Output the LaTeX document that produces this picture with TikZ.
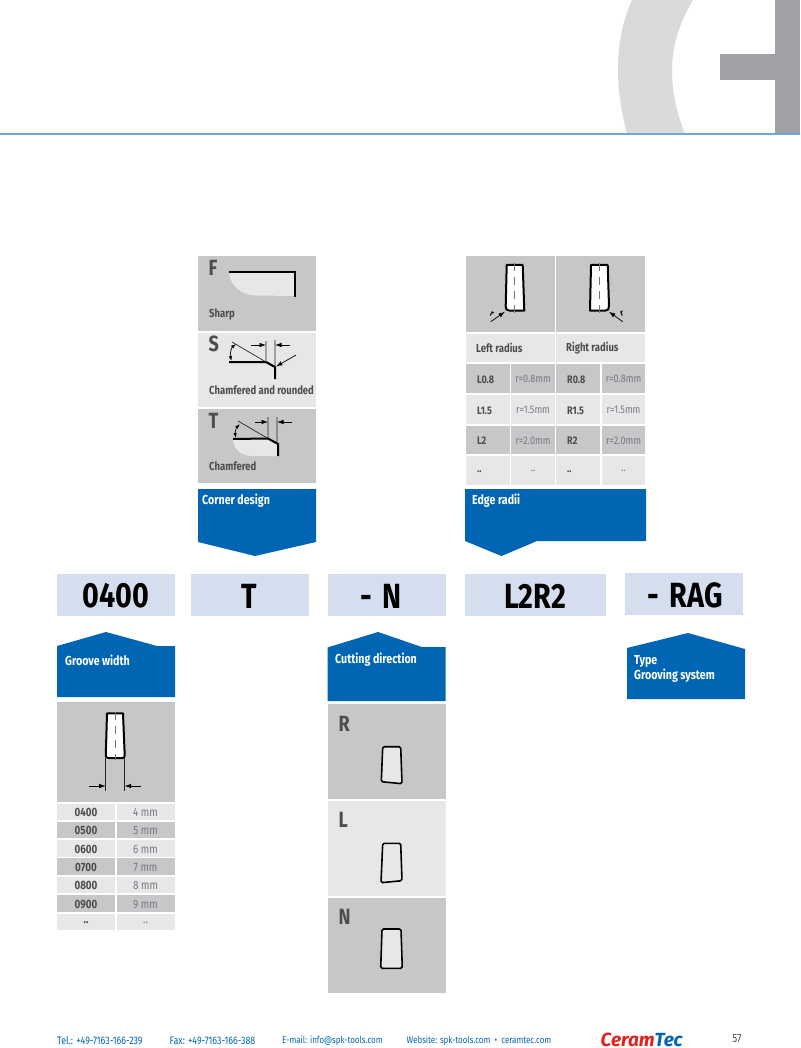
\documentclass[tikz,border=0pt]{standalone}
\usepackage{fontspec}
\setmainfont[FakeStretch=0.82]{Fira Sans}
\newfontfamily\logofont{Fira Sans}
\usetikzlibrary{arrows.meta}
\definecolor{bluebox}{HTML}{0066B3}
\definecolor{codebox}{HTML}{D5DEEF}
\definecolor{panelgray}{HTML}{C6C7C9}
\definecolor{panellight}{HTML}{E6E7E8}
\definecolor{txtgray}{HTML}{4D4D4F}
\definecolor{txtlight}{HTML}{77787B}
\definecolor{ringgray}{HTML}{D9DADB}
\definecolor{markgray}{HTML}{A0A1A5}
\definecolor{rulecol}{HTML}{6CA9D8}
\definecolor{logored}{HTML}{E2231A}
\tikzset{
 code/.style={font=\fontsize{35}{35}\selectfont\bfseries,text=black,inner sep=0},
 bluelabel/.style={font=\fontsize{13}{15}\selectfont\bfseries,text=white,inner sep=0,anchor=west,align=left},
 biglet/.style={font=\fontsize{22}{22}\selectfont\bfseries,text=txtgray,inner sep=0,anchor=west},
 panlabel/.style={font=\fontsize{11.6}{11.6}\selectfont\bfseries,text=txtgray,inner sep=0,anchor=west},
 keytext/.style={font=\fontsize{11}{11}\selectfont\bfseries,text=txtgray,inner sep=0},
 valtext/.style={font=\fontsize{11}{11}\selectfont,text=txtlight,inner sep=0},
 foot/.style={font=\fontsize{9.7}{10}\selectfont,text=bluebox,inner sep=0,anchor=west},
 footnum/.style={foot,font=\fontsize{10.9}{10}\selectfont},
 thick line/.style={line width=2pt,black},
 thin line/.style={line width=0.7pt,black!85},
 dim/.style={line width=0.7pt,black,-{Latex[length=6.5pt,width=4.5pt]}},
 dimboth/.style={line width=0.7pt,black,{Latex[length=5pt,width=3.5pt]}-{Latex[length=5pt,width=3.5pt]}},
 insert/.style={line width=1.6pt,black,fill=panellight,rounded corners=1.5pt,line join=round},
 insertw/.style={line width=2pt,black,fill=white,line join=round},
 centre/.style={line width=0.9pt,black!55,dash pattern=on 8pt off 6pt},
}
\begin{document}
\begin{tikzpicture}[x=1pt,y=-1pt]
\useasboundingbox (0,0) rectangle (800,1048);
\fill[white] (0,0) rectangle (800,1048);
% header
\fill[ringgray] (632,0) .. controls (622,22) and (618,45) .. (618,70) .. controls (618,93) and (622,114) .. (627,134) -- (685,134) .. controls (677,114) and (672,93) .. (672,70) .. controls (672,45) and (680,22) .. (693,0) -- cycle;
\fill[markgray] (775,0) rectangle (800,134);
\fill[markgray] (720,54) rectangle (775,80);
\fill[rulecol] (0,133.5) rectangle (800,135);

% corner design
\fill[panelgray] (198,256) rectangle (316,331);
\fill[panellight] (198,333) rectangle (316,407);
\fill[panelgray] (198,409) rectangle (316,483);
\node[biglet] (lF) at (208.5,268) {F};
\node[biglet] (lS) at (208.5,344) {S};
\node[biglet] (lT) at (208.5,421) {T};
\node[panlabel] (tSharp) at (209,314) {Sharp};
\node[panlabel] (tCR) at (209,390) {Chamfered and rounded};
\node[panlabel] (tCh) at (209,466) {Chamfered};
% F
\fill[panellight] (229,272) .. controls (230,285) and (240,295) .. (256,295.5) -- (295,296) -- (295,272) -- cycle;
\draw[thick line] (229,272) -- (295,272) -- (295,297);
% S
\draw[thick line] (229,362) -- (266,362) -- (275,367) -- (275,379);
\draw[thin line] (232,342) -- (266,362) (266,341) -- (266,362) (275,340) -- (275,367);
\draw[dim] (251,345) -- (266,345);
\draw[dim] (290,345) -- (275,345);
\draw[dim] (296,355) -- (276,366.5);
\draw[dimboth] (236,344) .. controls (231,348) and (230,355) .. (231.5,361);
% T
\fill[panellight] (233,439) .. controls (233,449) and (241,456) .. (252,456) -- (278,456) -- (278,444) -- (268,438) -- cycle;
\draw[thick line] (233,439) -- (268,438.5) -- (278,444) -- (278,456);
\draw[thin line] (238,421) -- (268,438.5) (268,417) -- (268,438) (277,417) -- (277,444);
\draw[dim] (255,422) -- (268,422);
\draw[dim] (292,422) -- (277,422);
\draw[dimboth] (240,424) .. controls (236,428) and (235,433) .. (236,438);
% corner blue
\fill[bluebox] (198,489) -- (316,489) -- (316,542) -- (255,556) -- (198,542) -- cycle;
\node[bluelabel] (corner) at (202,500.5) {Corner design};

% edge radii
\fill[panelgray] (466,256) rectangle (555,332);
\fill[panelgray] (556,256) rectangle (645,332);
\draw[insertw] (506.7,265) -- (522.7,265) -- (524.3,310.5) -- (509,310.5) .. controls (506.5,310.5) and (505.5,309) .. (505.7,306) -- cycle;
\draw[centre] (514.7,263) -- (514.7,313);
\draw[insertw] (591,265) -- (607.7,265) -- (609,306) .. controls (609,309) and (608,310.5) .. (605.5,310.5) -- (590,310.5) -- cycle;
\draw[centre] (599.3,263) -- (599.3,313);
\draw[dim] (490.7,321.7) -- (505,311.7);
\draw[dim] (622.7,321.7) -- (609,311.7);
\node[inner sep=0,font=\fontsize{9}{9}\selectfont\bfseries,rotate=-30] (rL) at (492,314) {r};
\node[inner sep=0,font=\fontsize{9}{9}\selectfont\bfseries,rotate=20] (rR) at (622,314) {r};
\fill[panellight] (466,334) rectangle (555,362);
\fill[panellight] (556,334) rectangle (645,362);
\node[panlabel] (tLr) at (476,348) {Left radius};
\node[panlabel] (tRr) at (566,348) {Right radius};
\foreach \ya/\yb/\col/\ka/\kb/\va in {364/393/panelgray/L0.8/R0.8/r=0.8mm,395/424/panellight/L1.5/R1.5/r=1.5mm,426/454/panelgray/L2/R2/r=2.0mm,456/485/panellight/../../..}{
  \fill[\col] (466,\ya) rectangle (509.5,\yb);
  \fill[\col] (511,\ya) rectangle (555,\yb);
  \fill[\col] (556,\ya) rectangle (600,\yb);
  \fill[\col] (601.5,\ya) rectangle (645,\yb);
  \pgfmathsetmacro\ym{(\ya+\yb)/2+0.8}
  \node[keytext,anchor=west] at (477,\ym) {\ka};
  \node[valtext] at (533,\ym) {\va};
  \node[keytext,anchor=west] at (567,\ym) {\kb};
  \node[valtext] at (623.5,\ym) {\va};
}
\fill[bluebox] (465,489) -- (646,489) -- (646,541) -- (537,541) -- (501.5,556) -- (465,541) -- cycle;
\node[bluelabel] (edge) at (472,500.5) {Edge radii};

% code boxes
\fill[codebox] (57,574) rectangle (175,616);
\fill[codebox] (190.5,574) rectangle (309,616);
\fill[codebox] (327.5,574) rectangle (446,616);
\fill[codebox] (465,574) rectangle (606,616);
\fill[codebox] (625,573) rectangle (743,615);
\node[code] (c1) at (116,596) {0400};
\node[code] (c2) at (249.5,596) {T};
\node[code] (c3) at (381,596) {-\hspace{0.12em} N};
\node[code] (c4) at (535,596) {L2R2};
\node[code] (c6) at (685,595) {-\hspace{0.12em} RAG};

% groove width
\fill[bluebox] (57,646) -- (106,632) -- (157,646) -- (175,646) -- (175,697) -- (57,697) -- cycle;
\node[bluelabel] (groove) at (65,660.5) {Groove width};
\fill[panelgray] (57,702) rectangle (175,802);
\draw[insertw] (107,713.3) -- (123,713.3) -- (124.7,755) .. controls (124.7,757.5) and (124,758) .. (122.5,758) -- (108.5,758) .. controls (106.5,758) and (105.7,757) .. (105.8,755) -- cycle;
\draw[centre] (115,712) -- (115,760);
\draw[thin line] (105.7,758) -- (105.7,791) (124.7,758) -- (124.7,791);
\draw[dim] (89.3,786) -- (105.7,786);
\draw[dim] (141,786) -- (124.7,786);
\foreach \ya/\yb/\col/\ka/\va in {804/820/panellight/0400/4 mm,822/838/panelgray/0500/5 mm,840/857/panellight/0600/6 mm,858/875/panelgray/0700/7 mm,877/893/panellight/0800/8 mm,895/912/panelgray/0900/9 mm,914/930/panellight/../..}{
  \fill[\col] (57,\ya) rectangle (115,\yb);
  \fill[\col] (117,\ya) rectangle (175,\yb);
  \pgfmathsetmacro\ym{(\ya+\yb)/2+0.8}
  \node[keytext,font=\fontsize{12}{12}\selectfont\bfseries] at (86,\ym) {\ka};
  \node[valtext,font=\fontsize{12}{12}\selectfont] at (145.5,\ym) {\va};
}

% cutting direction
\fill[bluebox] (327.5,647.5) -- (378,632) -- (421.7,647) -- (445.5,647) -- (445.5,701) -- (327.5,701) -- cycle;
\node[bluelabel] (cutting) at (335,659.5) {Cutting direction};
\fill[panelgray] (327.5,704) rectangle (445.5,799);
\fill[panellight] (327.5,801) rectangle (445.5,896);
\fill[panelgray] (327.5,898) rectangle (445.5,993);
\node[biglet] (lR) at (338.5,723.5) {R};
\node[biglet] (lL) at (338.5,820) {L};
\node[biglet] (lN) at (338.5,916.5) {N};
\draw[insert] (382.7,746.7) -- (400.7,746.7) -- (402,783.7) -- (381.3,781.7) -- cycle;
\draw[insert] (382.7,843.3) -- (400.7,843.3) -- (402,880.7) -- (381,882.7) -- cycle;
\draw[insert] (382,929) -- (401,929) -- (402.3,968.3) -- (380.7,968.3) -- cycle;

% type
\fill[bluebox] (627,648) -- (688,633) -- (745,649) -- (745,699) -- (627,699) -- cycle;
\node[bluelabel] (type) at (634,668.5) {Type\\Grooving system};

% footer
\node[footnum] (f1) at (57,1040.5) {Tel.: +49-7163-166-239};
\node[footnum] (f2) at (169.5,1040.5) {Fax: +49-7163-166-388};
\node[foot] (f3) at (282,1040.5) {E-mail: info@spk-tools.com};
\node[foot] (f4) at (406.5,1040.5) {Website: spk-tools.com\ \ •\ \ ceramtec.com};
\node[inner sep=0,anchor=west,font=\logofont\fontsize{19}{19}\selectfont\bfseries\itshape] (logo) at (600.5,1039.5) {\textcolor{logored}{Ceram}\textcolor{bluebox}{Tec}};
\node[inner sep=0,font=\fontsize{12}{12}\selectfont,text=txtgray] (pg) at (737,1038.5) {57};
\end{tikzpicture}
\end{document}
